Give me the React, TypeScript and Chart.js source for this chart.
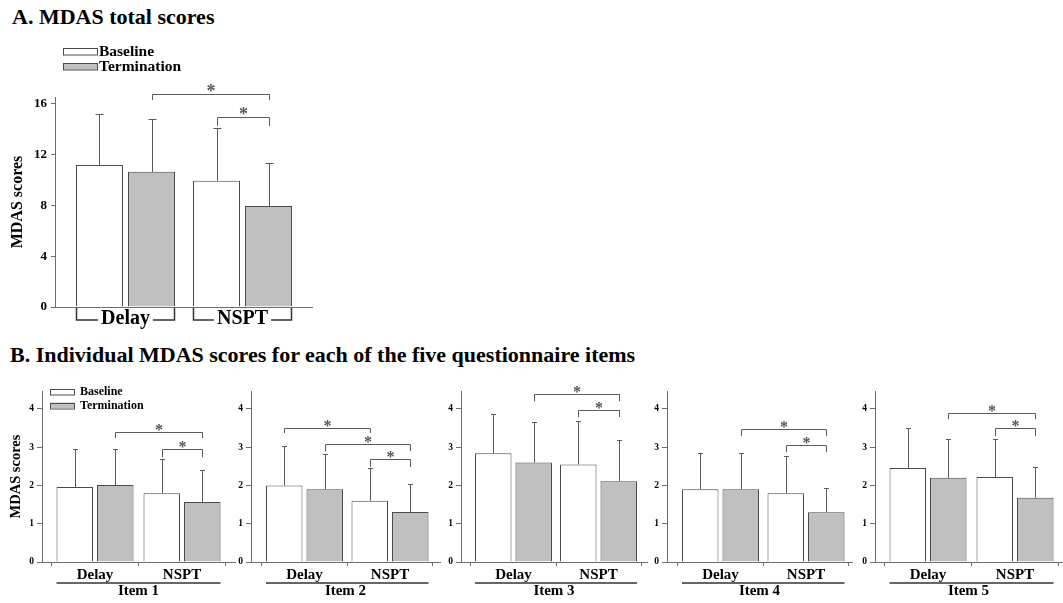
import React, { useEffect, useRef } from "react";
import { Chart, registerables } from "chart.js";

Chart.register(...registerables);

const FONT = '"Liberation Serif", "Times New Roman", Times, serif';

// ---------------- data ----------------
const groupLabels = ["Delay", "NSPT"];
const seriesLabels = ["Baseline", "Termination"];

// Panel A: MDAS total scores (mean, SD)
const totalBaseline = [11.2, 9.95];
const totalBaselineSD = [4.0, 4.15];
const totalTermination = [10.65, 7.95];
const totalTerminationSD = [4.15, 3.4];
const totalYTicks = [0, 4, 8, 12, 16];
// significance brackets: [fromGroup, fromSeries, toGroup, toSeries, lineValue, legEndValue]
const totalSig = [
  [0, 1, 1, 1, 16.8, 16.3],
  [1, 0, 1, 1, 14.98, 14.27],
];

// Panel B: individual items (mean, SD)
const itemLabels = ["Item 1", "Item 2", "Item 3", "Item 4", "Item 5"];
const itemBaseline = [[1.96, 1.8], [2.0, 1.6], [2.84, 2.55], [1.9, 1.8], [2.46, 2.22]];
const itemBaselineSD = [[0.99, 0.89], [1.03, 0.85], [1.02, 1.14], [0.94, 0.97], [1.04, 0.99]];
const itemTermination = [[2.01, 1.57], [1.9, 1.31], [2.6, 2.11], [1.9, 1.3], [2.2, 1.68]];
const itemTerminationSD = [[0.94, 0.83], [0.92, 0.72], [1.05, 1.08], [0.94, 0.63], [1.01, 0.81]];
const itemYTicks = [0, 1, 2, 3, 4];
const itemSig = [
  [[0, 1, 1, 1, 3.39, 3.24], [1, 0, 1, 1, 2.95, 2.74]],
  [[0, 0, 1, 0, 3.5, 3.37], [0, 1, 1, 1, 3.08, 2.9], [1, 0, 1, 1, 2.69, 2.48]],
  [[0, 1, 1, 1, 4.39, 4.2], [1, 0, 1, 1, 3.97, 3.79]],
  [[0, 1, 1, 1, 3.47, 3.3], [1, 0, 1, 1, 3.05, 2.87]],
  [[0, 1, 1, 1, 3.89, 3.73], [1, 0, 1, 1, 3.5, 3.29]],
];

// ---------------- styles / layout ----------------
const seriesFill = ["#ffffff", "#c0c0c0"];
const BAR_EDGE = "#4a4a4a";
const ERR = "#5a5a5a";
const AXIS = "#6e6e6e";
const BRACKET = "#5a5a5a";
const STAR = "#555555";

type Legend = { x: number; y: number[]; w: number; h: number; size: number; textX: number };
type PanelCfg = {
  mode: "A" | "B";
  canvas: number[];
  area: number[];
  centers: number[];
  barW: number;
  gap: number;
  yMax: number;
  yTicks: number[];
  yTitle: { show: boolean; size: number; centerX: number };
  tick: { size: number; len: number; pad: number };
  xLabelSize: number;
  xHeight: number;
  xTitle: string;
  capW: number;
  starSize: number;
  legend: Legend | null;
  values: number[][];
  sds: number[][];
  sig: number[][];
};

const panels: PanelCfg[] = [];

panels.push({
  mode: "A",
  canvas: [0, 30, 330, 310],
  area: [55, 97, 312, 307],
  centers: [125.5, 242.5],
  barW: 47,
  gap: 5,
  yMax: 16.55,
  yTicks: totalYTicks,
  yTitle: { show: true, size: 16, centerX: 18 },
  tick: { size: 13, len: 4, pad: 4 },
  xLabelSize: 20,
  xHeight: 30,
  xTitle: "",
  capW: 8,
  starSize: 18,
  legend: { x: 63, y: [48, 63], w: 34, h: 6.5, size: 15.5, textX: 99 },
  values: [totalBaseline, totalTermination],
  sds: [totalBaselineSD, totalTerminationSD],
  sig: totalSig,
});

const itemAxisLeft = [42, 251, 461, 667, 875];
const itemAxisRight = [235, 440, 647, 852, 1062];
const itemCenters = [[95, 182], [304.5, 390], [513.5, 598.5], [720.5, 806], [928, 1015]];

itemLabels.forEach((label, i) => {
  const left = i === 0 ? 0 : itemAxisLeft[i] - 25;
  const right = Math.min(1063, itemAxisRight[i] + 2);
  panels.push({
    mode: "B",
    canvas: [left, 360, right - left, 243],
    area: [itemAxisLeft[i], 391, itemAxisRight[i], 562],
    centers: itemCenters[i],
    barW: 36.5,
    gap: 4,
    yMax: 4.47,
    yTicks: itemYTicks,
    yTitle: { show: i === 0, size: 14.5, centerX: 16 },
    tick: { size: 9.5, len: 5, pad: 3 },
    xLabelSize: 15,
    xHeight: 38,
    xTitle: label,
    capW: 5,
    starSize: 16,
    legend: i === 0 ? { x: 50, y: [389, 402.5], w: 24, h: 5.5, size: 12, textX: 80 } : null,
    values: [itemBaseline[i], itemTermination[i]],
    sds: [itemBaselineSD[i], itemTerminationSD[i]],
    sig: itemSig[i],
  });
});

function line(ctx: CanvasRenderingContext2D, pts: number[][]) {
  ctx.beginPath();
  ctx.moveTo(pts[0][0], pts[0][1]);
  for (let k = 1; k < pts.length; k++) ctx.lineTo(pts[k][0], pts[k][1]);
  ctx.stroke();
}

function buildChart(canvas: HTMLCanvasElement, p: PanelCfg, idx: number) {
  const [cl, ct, cw, ch] = p.canvas;
  const [al, at, ar, ab] = p.area;
  const [c1, c2] = p.centers;
  const sp = c2 - c1;
  const xMin = 1 - (c1 - al) / sp;
  const xMax = 2 + (ar - c2) / sp;
  const chunk = p.barW + p.gap;
  const yW = al - cl;
  const padding = {
    left: 0,
    top: at - ct,
    right: cl + cw - ar,
    bottom: ct + ch - ab - p.xHeight,
  };
  const titleLH = p.yTitle.size * 1.2;

  const datasets = [0, 1].map((s) => ({
    label: seriesLabels[s],
    data: p.values[s].map((v, i) => ({ x: i + 1, y: v })),
    backgroundColor: seriesFill[s],
    borderColor: BAR_EDGE,
    borderWidth: 1,
    categoryPercentage: (2 * chunk) / sp,
    barPercentage: p.barW / chunk,
  }));

  const decor = {
    id: "decor" + idx,
    afterDraw(chart: any) {
      const ctx: CanvasRenderingContext2D = chart.ctx;
      const ys = chart.scales.y;
      const xs = chart.scales.x;
      const metas = [chart.getDatasetMeta(0), chart.getDatasetMeta(1)];
      const px = (v: number) => Math.round(v) + 0.5;
      ctx.save();

      // error bars (upper only)
      ctx.strokeStyle = ERR;
      ctx.lineWidth = 1;
      for (let s = 0; s < 2; s++) {
        metas[s].data.forEach((bar: any, i: number) => {
          const x = px(bar.x);
          const yTop = Math.round(ys.getPixelForValue(p.values[s][i] + p.sds[s][i])) + 0.5;
          line(ctx, [[x, bar.y], [x, yTop]]);
          line(ctx, [[x - p.capW / 2, yTop], [x + p.capW / 2, yTop]]);
        });
      }

      // significance brackets
      ctx.strokeStyle = BRACKET;
      ctx.lineWidth = 1;
      ctx.fillStyle = STAR;
      ctx.font = `bold ${p.starSize}px ${FONT}`;
      ctx.textAlign = "center";
      ctx.textBaseline = "alphabetic";
      p.sig.forEach(([g1, s1, g2, s2, v, leg]) => {
        const x1 = px(metas[s1].data[g1].x);
        const x2 = px(metas[s2].data[g2].x);
        const yL = Math.round(ys.getPixelForValue(v)) + 0.5;
        const yLeg = ys.getPixelForValue(leg);
        line(ctx, [[x1, yLeg], [x1, yL], [x2, yL], [x2, yLeg]]);
        ctx.fillText("*", (x1 + x2) / 2, yL + p.starSize * 0.14);
      });

      // group decorations under the x axis
      const bottom = chart.chartArea.bottom;
      ctx.strokeStyle = "#333333";
      ctx.lineWidth = 1.5;
      if (p.mode === "A") {
        ctx.font = `bold ${p.xLabelSize}px ${FONT}`;
        const yH = bottom + 13;
        for (let g = 0; g < 2; g++) {
          const b0: any = metas[0].data[g];
          const b1: any = metas[1].data[g];
          const xL = Math.round(b0.x - b0.width / 2) + 0.5;
          const xR = Math.round(b1.x + b1.width / 2) - 0.5;
          const cx = xs.getPixelForValue(g + 1);
          const tw = ctx.measureText(groupLabels[g]).width;
          line(ctx, [[xL, bottom + 1], [xL, yH], [cx - tw / 2 - 3, yH]]);
          line(ctx, [[cx + tw / 2 + 3, yH], [xR, yH], [xR, bottom + 1]]);
        }
      } else {
        const b0: any = metas[0].data[0];
        const b1: any = metas[1].data[1];
        const yU = bottom + 21;
        line(ctx, [[b0.x - b0.width / 2, yU], [b1.x + b1.width / 2, yU]]);
      }

      // legend
      if (p.legend) {
        const L = p.legend;
        ctx.font = `bold ${L.size}px ${FONT}`;
        ctx.textAlign = "left";
        ctx.textBaseline = "middle";
        ctx.lineWidth = 1;
        for (let s = 0; s < 2; s++) {
          const bx = L.x - cl;
          const by = L.y[s] - ct;
          ctx.fillStyle = seriesFill[s];
          ctx.fillRect(bx, by, L.w, L.h);
          ctx.strokeStyle = BAR_EDGE;
          ctx.strokeRect(Math.round(bx) + 0.5, Math.round(by) + 0.5, L.w, L.h);
          ctx.fillStyle = "#000000";
          ctx.fillText(seriesLabels[s], L.textX - cl, by + L.h / 2 + 0.5);
        }
      }
      ctx.restore();
    },
  };

  return new Chart(canvas, {
    type: "bar",
    data: { datasets },
    options: {
      animation: false,
      responsive: false,
      devicePixelRatio: 1,
      layout: { padding },
      plugins: { legend: { display: false }, tooltip: { enabled: false }, title: { display: false } },
      scales: {
        x: {
          type: "linear",
          min: xMin,
          max: xMax,
          offset: false,
          afterFit: (s: any) => {
            s.height = p.xHeight;
          },
          afterBuildTicks: (s: any) => {
            s.ticks = [{ value: 1 }, { value: 2 }];
          },
          ticks: {
            autoSkip: false,
            maxRotation: 0,
            padding: 0,
            color: "#000000",
            font: { family: FONT, size: p.xLabelSize, weight: "bold" },
            callback: (_v: any, i: number) => groupLabels[i],
          },
          grid: {
            display: true,
            drawOnChartArea: false,
            drawTicks: p.mode === "B",
            tickLength: 4,
            tickColor: AXIS,
          },
          border: { display: true, color: AXIS, width: 1 },
          title: {
            display: p.xTitle !== "",
            text: p.xTitle,
            color: "#000000",
            padding: 0,
            font: { family: FONT, size: p.xLabelSize, weight: "bold" },
          },
        },
        y: {
          type: "linear",
          min: 0,
          max: p.yMax,
          afterFit: (s: any) => {
            s.width = yW;
          },
          afterBuildTicks: (s: any) => {
            s.ticks = p.yTicks.map((v) => ({ value: v }));
          },
          ticks: {
            padding: p.tick.pad,
            color: "#000000",
            font: { family: FONT, size: p.tick.size, weight: "bold" },
          },
          grid: {
            display: true,
            drawOnChartArea: false,
            drawTicks: true,
            tickLength: p.tick.len,
            tickColor: AXIS,
          },
          border: { display: true, color: AXIS, width: 1 },
          title: {
            display: p.yTitle.show,
            text: "MDAS scores",
            color: "#000000",
            padding: { top: Math.max(0, p.yTitle.centerX - cl - titleLH / 2), bottom: 0 },
            font: { family: FONT, size: p.yTitle.size, weight: "bold" },
          },
        },
      },
    },
    plugins: [decor],
  } as any);
}

function Panel({ p, idx }: { p: PanelCfg; idx: number }) {
  const ref = useRef<HTMLCanvasElement>(null);
  useEffect(() => {
    const chart = buildChart(ref.current as HTMLCanvasElement, p, idx);
    return () => chart.destroy();
  }, []);
  const [l, t, w, h] = p.canvas;
  return (
    <canvas
      ref={ref}
      width={w}
      height={h}
      style={{ position: "absolute", left: l, top: t, width: w, height: h }}
    />
  );
}

const titleStyle: React.CSSProperties = {
  position: "absolute",
  fontFamily: FONT,
  fontWeight: "bold",
  fontSize: 22,
  lineHeight: "22px",
  whiteSpace: "nowrap",
  color: "#000",
};

export default function App() {
  return (
    <div
      style={{
        position: "absolute",
        left: 0,
        top: 0,
        width: 1063,
        height: 603,
        background: "#ffffff",
        overflow: "hidden",
      }}
    >
      <div style={{ ...titleStyle, left: 12, top: 6 }}>A. MDAS total scores</div>
      <div style={{ ...titleStyle, left: 10, top: 344 }}>
        B. Individual MDAS scores for each of the five questionnaire items
      </div>
      {panels.map((p, i) => (
        <Panel key={i} p={p} idx={i} />
      ))}
    </div>
  );
}
